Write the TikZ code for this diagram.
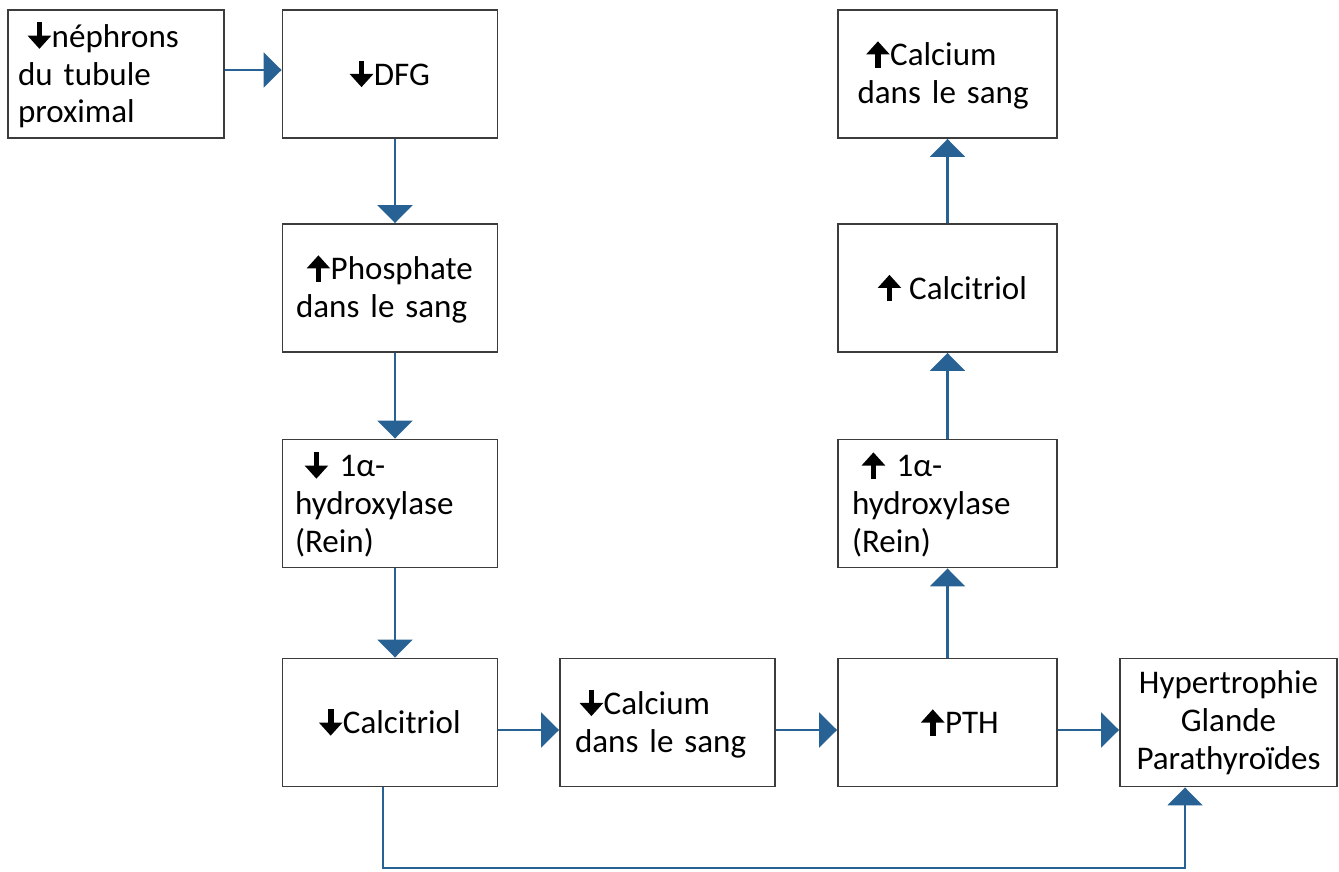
\documentclass[tikz,border=0pt]{standalone}
\usepackage{fontspec}
\setmainfont{Carlito}
\usetikzlibrary{arrows.meta,positioning}

\definecolor{bleulien}{RGB}{40,98,148}
\definecolor{grisbord}{RGB}{60,60,60}

% bold up / down arrows in the text
\newcommand{\flbas}{\tikz[baseline=0pt]\draw[line width=3.2pt,-{Triangle[width=13pt,length=7.5pt]}] (0,14pt) -- (0,-1pt);\hspace{0.5pt}}
\newcommand{\flhaut}{\tikz[baseline=0pt]\draw[line width=3.2pt,-{Triangle[width=13pt,length=7.5pt]}] (0,-1pt) -- (0,14pt);\hspace{0.5pt}}

\begin{document}
\begin{tikzpicture}[on grid,
  bloc/.style={draw=grisbord, line width=1.1pt, minimum width=4.3cm, minimum height=2.56cm,
               inner sep=0pt, font=\fontsize{18.8}{21.6}\selectfont},
  lien/.style={draw=bleulien, line width=1.2pt, -{Triangle[width=0.7cm,length=0.36cm]}}]
  \useasboundingbox (0,0) rectangle (26.78,-17.44);

  % left column
  \node[bloc, minimum width=4.32cm, align=left, text width=3.92cm] (nephr) at (2.32,-1.48)
    {\hspace{0.2cm}\flbas néphrons\\du tubule\\proximal};
  \node[bloc, align=center] (dfg) [right=5.48cm of nephr] {\flbas DFG};
  \node[bloc, align=left, text width=3.76cm] (phos) [below=4.28cm of dfg]
    {\hspace{0.22cm}\flhaut Phosphate\\dans le sang};
  \node[bloc, align=left, text width=3.8cm] (hydbas) [below=4.31cm of phos]
    {\hspace{0.2cm}\flbas{} 1α-\\hydroxylase\\(Rein)};
  \node[bloc, align=center] (calcbas) [below=4.38cm of hydbas] {\flbas Calcitriol};

  % bottom row
  \node[bloc, align=left, text width=3.7cm] (cabas) [right=5.55cm of calcbas]
    {\hspace{0.1cm}\flbas Calcium\\dans le sang};
  \node[bloc, minimum width=4.38cm, align=center] (pth) [right=5.6cm of cabas]
    {\hspace{0.5cm}\flhaut PTH};
  \node[bloc, minimum width=4.34cm, align=center] (hyper) [right=5.62cm of pth]
    {Hypertrophie\\Glande\\Parathyroïdes};

  % right column
  \node[bloc, minimum width=4.38cm, align=left, text width=3.82cm] (hydhaut) [above=4.38cm of pth]
    {\hspace{0.2cm}\flhaut{} 1α-\\hydroxylase\\(Rein)};
  \node[bloc, minimum width=4.38cm, align=center] (calchaut) [above=4.31cm of hydhaut]
    {\hspace{0.2cm}\flhaut{} Calcitriol};
  \node[bloc, minimum width=4.38cm, align=left, text width=3.6cm] (cahaut) [above=4.28cm of calchaut]
    {\hspace{0.18cm}\flhaut Calcium\\dans le sang};

  \coordinate (fond) at (0,-17.36);

  % connectors
  \draw[lien] ([yshift=0.08cm]nephr.east) -- ([yshift=0.08cm]dfg.west);
  \draw[lien] ([xshift=0.1cm]dfg.south) -- ([xshift=0.1cm]phos.north);
  \draw[lien] ([xshift=0.1cm]phos.south) -- ([xshift=0.1cm]hydbas.north);
  \draw[lien] ([xshift=0.1cm]hydbas.south) -- ([xshift=0.1cm]calcbas.north);
  \draw[lien] ([yshift=-0.15cm]calcbas.east) -- ([yshift=-0.15cm]cabas.west);
  \draw[lien] ([yshift=-0.15cm]cabas.east) -- ([yshift=-0.15cm]pth.west);
  \draw[lien] ([yshift=-0.15cm]pth.east) -- ([yshift=-0.15cm]hyper.west);
  \draw[lien] (pth) -- (hydhaut);
  \draw[lien] (hydhaut) -- (calchaut);
  \draw[lien] (calchaut) -- (cahaut);
  \draw[lien] ([xshift=-0.14cm]calcbas.south) -- ([xshift=-0.14cm]calcbas.south |- fond)
    -| ([xshift=-0.87cm]hyper.south);
\end{tikzpicture}
\end{document}
